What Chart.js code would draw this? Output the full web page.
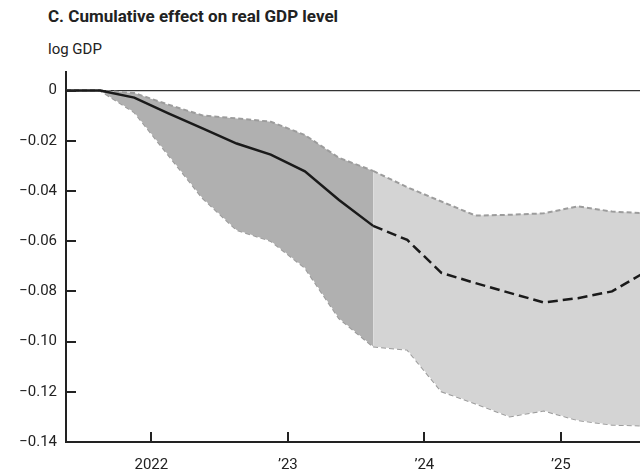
<!DOCTYPE html>
<html>
<head>
<meta charset="utf-8">
<script src="https://cdn.jsdelivr.net/npm/chart.js@4.4.1/dist/chart.umd.min.js"></script>
<style>
  html, body { margin: 0; padding: 0; background: #fff; }
  #wrap { position: relative; width: 640px; height: 474px; font-family: Roboto, "Noto Sans", sans-serif; color: #222; }
  #title { position: absolute; left: 48px; top: 6px; font-size: 17px; font-weight: 700; white-space: nowrap; }
  #unit { position: absolute; left: 48px; top: 40px; font-size: 15px; }
  #box { position: absolute; left: 0; top: 0; width: 640px; height: 474px; }
</style>
</head>
<body>
<div id="wrap">
  <div id="title">C. Cumulative effect on real GDP level</div>
  <div id="unit">log GDP</div>
  <div id="box"><canvas id="gdpChart" width="640" height="474"></canvas></div>
</div>
<script>
// Trimestres (mitad de cada trimestre, en años decimales) 2021T2 – 2025T3
const quarters = [2021.375, 2021.625, 2021.875, 2022.125, 2022.375, 2022.625, 2022.875, 2023.125, 2023.375,
                  2023.625, 2023.875, 2024.125, 2024.375, 2024.625, 2024.875, 2025.125, 2025.375, 2025.625];
// Efecto acumulado (mediana) y bandas
const gdpEffect = [0, 0, -0.0028, -0.0091, -0.0151, -0.0211, -0.0255, -0.0322, -0.0436,
                   -0.0539, -0.0595, -0.0726, -0.0767, -0.0806, -0.0844, -0.0827, -0.0800, -0.0721];
const bandUpper = [0, 0, -0.0010, -0.0056, -0.0099, -0.0111, -0.0124, -0.0177, -0.0268,
                   -0.0320, -0.0385, -0.0442, -0.0498, -0.0495, -0.0489, -0.0461, -0.0482, -0.0489];
const bandLower = [0, 0, -0.0086, -0.0257, -0.0428, -0.0555, -0.0599, -0.0706, -0.0907,
                   -0.1020, -0.1032, -0.1198, -0.1247, -0.1298, -0.1275, -0.1313, -0.1331, -0.1335];
// Último trimestre observado (a partir de aquí, proyección)
const lastActual = 9;

const yTicks = [0, -0.02, -0.04, -0.06, -0.08, -0.10, -0.12, -0.14];
const xTicks = [2022, 2023, 2024, 2025];
const xTickLabels = ['2022', '\u201923', '\u201924', '\u201925'];

function toPoints(values, from, to) {
    return values.slice(from, to).map((v, i) => ({ x: quarters[from + i], y: v }));
}

const darkFill = '#b0b0b0';
const lightFill = '#d4d4d4';
const bandEdge = '#9c9c9c';

function bandDataset(values, from, to, fill, color) {
    return {
        data: toPoints(values, from, to),
        borderColor: bandEdge,
        borderWidth: 2,
        borderDash: [5, 3],
        pointRadius: 0,
        tension: 0,
        fill: fill,
        backgroundColor: color,
        order: 1
    };
}

// Marcas interiores de los ejes
const innerTicks = {
    id: 'innerTicks',
    afterDraw(chart) {
        const { ctx, chartArea, scales } = chart;
        ctx.save();
        ctx.strokeStyle = '#222';
        ctx.lineWidth = 2;
        yTicks.forEach(v => {
            const y = Math.round(scales.y.getPixelForValue(v));
            ctx.beginPath();
            ctx.moveTo(chartArea.left, y);
            ctx.lineTo(chartArea.left + 10, y);
            ctx.stroke();
        });
        xTicks.forEach(v => {
            const x = Math.round(scales.x.getPixelForValue(v));
            ctx.beginPath();
            ctx.moveTo(x, chartArea.bottom);
            ctx.lineTo(x, chartArea.bottom - 10);
            ctx.stroke();
        });
        ctx.restore();
    }
};

const tickFont = { family: 'Roboto', size: 15 };

new Chart(document.getElementById('gdpChart'), {
    type: 'line',
    data: {
        datasets: [
            bandDataset(bandUpper, 0, lastActual + 1, '+1', darkFill),
            bandDataset(bandLower, 0, lastActual + 1, false, darkFill),
            bandDataset(bandUpper, lastActual, quarters.length, '+1', lightFill),
            bandDataset(bandLower, lastActual, quarters.length, false, lightFill),
            {
                data: toPoints(gdpEffect, 0, quarters.length),
                borderColor: '#1a1a1a',
                borderWidth: 2.5,
                pointRadius: 0,
                tension: 0,
                fill: false,
                order: 0,
                segment: {
                    borderDash: c => c.p0DataIndex >= lastActual ? [10, 5] : undefined
                }
            }
        ]
    },
    options: {
        responsive: false,
        animation: false,
        layout: { padding: { top: 72, right: 0, left: 0, bottom: 0 } },
        plugins: {
            legend: { display: false },
            tooltip: { enabled: false }
        },
        scales: {
            x: {
                type: 'linear',
                min: 2021.375,
                max: 2025.58,
                afterBuildTicks: s => { s.ticks = xTicks.map(v => ({ value: v })); },
                afterFit: s => { s.height = 32; },
                ticks: {
                    color: '#222',
                    font: tickFont,
                    padding: 6,
                    maxRotation: 0,
                    callback: v => xTickLabels[xTicks.indexOf(v)]
                },
                grid: { display: false },
                border: { display: true, color: '#222', width: 2 }
            },
            y: {
                min: -0.14,
                max: 0.0074,
                afterBuildTicks: s => { s.ticks = yTicks.map(v => ({ value: v })); },
                afterFit: s => { s.width = 66; },
                ticks: {
                    color: '#222',
                    font: tickFont,
                    padding: 9,
                    callback: v => v === 0 ? '0' : '\u2212' + Math.abs(v).toFixed(2)
                },
                grid: {
                    drawTicks: false,
                    lineWidth: 1.2,
                    color: c => c.tick && c.tick.value === 0 ? '#333' : 'rgba(0,0,0,0)'
                },
                border: { display: true, color: '#222', width: 2 }
            }
        }
    },
    plugins: [innerTicks]
});
</script>
</body>
</html>
